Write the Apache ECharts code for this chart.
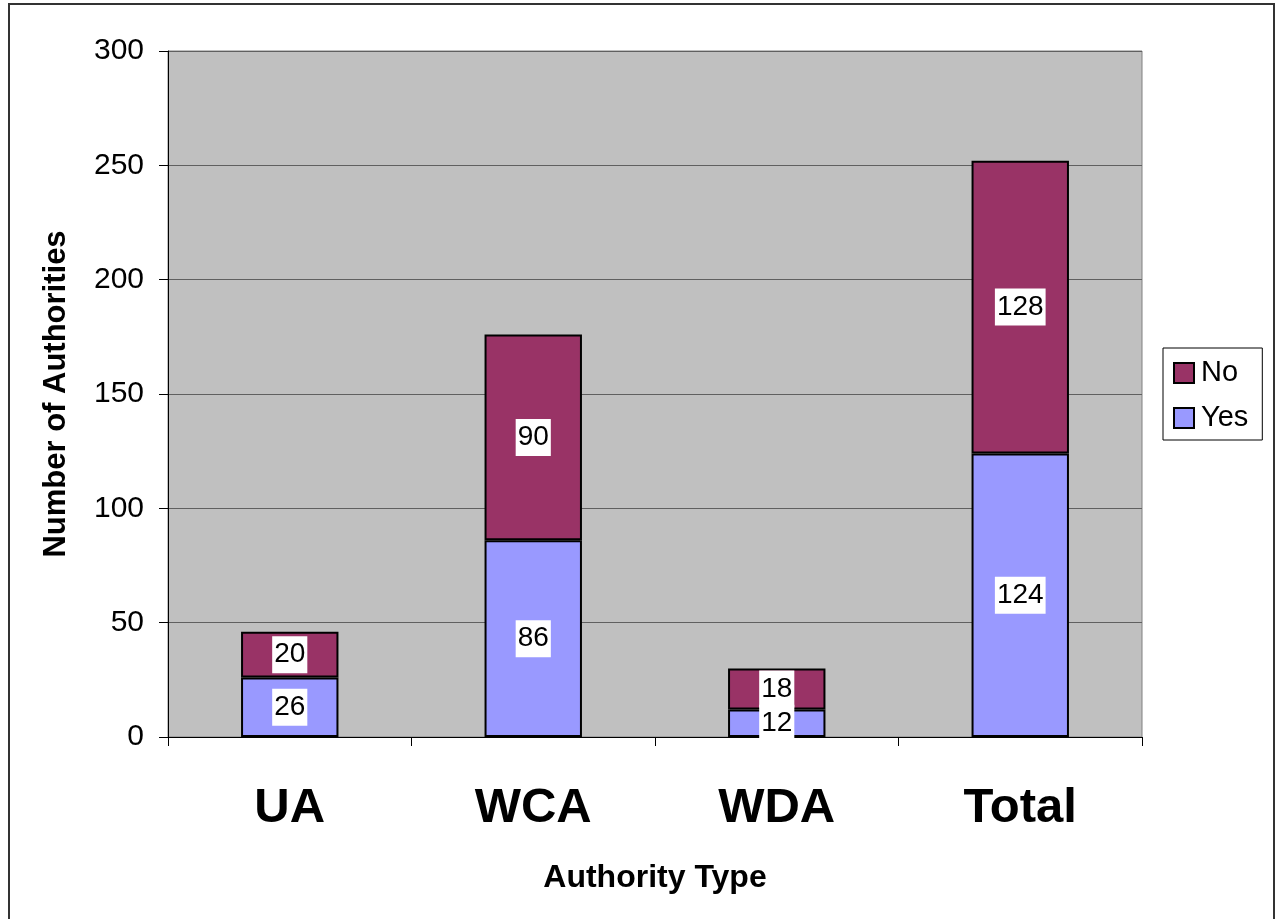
<!DOCTYPE html>
<html>
<head>
<meta charset="utf-8">
<script src="https://cdn.jsdelivr.net/npm/echarts@6/dist/echarts.min.js"></script>
<style>
    html, body { margin: 0; padding: 0; background: #fff; }
    .frame {
        position: absolute;
        left: 8px;
        top: 3px;
        width: 1263px;
        height: 940px;
        border: 2px solid #333;
    }
    #chart {
        position: absolute;
        left: 0;
        top: 0;
        width: 1279px;
        height: 919px;
    }
</style>
</head>
<body>
<div class="frame"></div>
<div id="chart"></div>
<script>
const categories = ["UA", "WCA", "WDA", "Total"];
const yesValues = [26, 86, 12, 124];
const noValues = [20, 90, 18, 128];
const yTicks = { min: 0, max: 300, interval: 50 };

const FONT = "Liberation Sans, Arial, sans-serif";
const chart = echarts.init(document.getElementById("chart"));

const labelStyle = {
    show: true,
    position: "inside",
    color: "#000",
    fontFamily: FONT,
    fontSize: 28,
    backgroundColor: "#fff",
    padding: [5, 2, 4, 2]
};

const options = {
    animation: false,
    grid: {
        left: 168,
        top: 51,
        right: 137,
        bottom: 182,
        show: true,
        backgroundColor: "#c0c0c0",
        borderColor: "#808080",
        borderWidth: 1
    },
    legend: {
        orient: "vertical",
        left: 1163,
        top: 348,
        data: ["No", "Yes"],
        icon: "rect",
        itemWidth: 20,
        itemHeight: 20,
        itemGap: 15,
        padding: [10, 14, 7, 10],
        borderColor: "#000",
        borderWidth: 1,
        textStyle: {
            fontFamily: FONT,
            fontSize: 29,
            lineHeight: 30,
            color: "#000",
            padding: [0, 0, 0, 2]
        }
    },
    xAxis: {
        type: "category",
        data: categories,
        name: "Authority Type",
        nameLocation: "middle",
        nameGap: 125,
        nameTextStyle: {
            fontFamily: FONT,
            fontSize: 32,
            fontWeight: "bold",
            color: "#000"
        },
        axisLine: { lineStyle: { color: "#000", width: 1 } },
        axisTick: { show: true, length: 9, lineStyle: { color: "#000" } },
        axisLabel: {
            margin: 47,
            fontFamily: FONT,
            fontSize: 49,
            fontWeight: "bold",
            color: "#000"
        }
    },
    yAxis: {
        type: "value",
        min: yTicks.min,
        max: yTicks.max,
        interval: yTicks.interval,
        name: "Number of Authorities",
        nameLocation: "middle",
        nameGap: 96,
        nameTextStyle: {
            fontFamily: FONT,
            fontSize: 31,
            fontWeight: "bold",
            color: "#000"
        },
        axisLine: { show: true, lineStyle: { color: "#000", width: 1 } },
        axisTick: { show: true, length: 9, lineStyle: { color: "#000" } },
        axisLabel: {
            margin: 24,
            fontFamily: FONT,
            fontSize: 30,
            color: "#000"
        },
        splitLine: { show: true, lineStyle: { color: "#606060", width: 1 } }
    },
    series: [
        {
            name: "Yes",
            type: "bar",
            stack: "total",
            data: yesValues,
            barWidth: "40%",
            itemStyle: { color: "#9999ff", borderColor: "#000", borderWidth: 2 },
            label: labelStyle
        },
        {
            name: "No",
            type: "bar",
            stack: "total",
            data: noValues,
            barWidth: "40%",
            itemStyle: { color: "#993366", borderColor: "#000", borderWidth: 2 },
            label: labelStyle
        }
    ]
};

chart.setOption(options);
</script>
</body>
</html>
